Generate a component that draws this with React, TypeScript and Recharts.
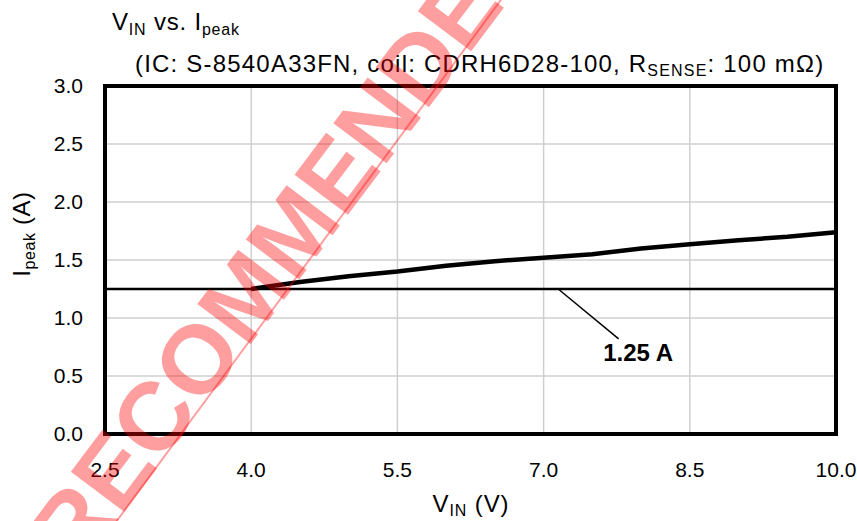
import React from "react";
import {
  LineChart,
  Line,
  XAxis,
  YAxis,
  CartesianGrid,
  ReferenceLine,
  ReferenceArea,
  ReferenceDot,
} from "recharts";

// V_IN (V) vs. I_peak (A)
const vin = [4.0, 4.5, 5.0, 5.5, 6.0, 6.5, 7.0, 7.5, 8.0, 8.5, 9.0, 9.5, 10.0];
const ipeak = [1.25, 1.31, 1.36, 1.4, 1.45, 1.49, 1.52, 1.55, 1.6, 1.635, 1.67, 1.7, 1.74];

const xTicks = [2.5, 4.0, 5.5, 7.0, 8.5, 10.0];
const yTicks = [0, 0.5, 1.0, 1.5, 2.0, 2.5, 3.0];
const limit = 1.25;

const data = vin.map((v, i) => ({ v, i: ipeak[i] }));

const FONT = '"Liberation Sans", Arial, sans-serif';
const tickStyle = { fill: "#000", fontSize: 21, fontFamily: FONT };

export default function App() {
  return (
    <div
      style={{
        position: "absolute",
        left: 0,
        top: 0,
        width: 857,
        height: 521,
        background: "#fff",
        fontFamily: FONT,
      }}
    >
      <LineChart
        width={857}
        height={521}
        data={data}
        margin={{ top: 86, right: 21, bottom: 0, left: 0 }}
      >
        <CartesianGrid stroke="#cfcfcf" strokeWidth={1.5} />
        <XAxis
          dataKey="v"
          type="number"
          domain={[2.5, 10]}
          ticks={xTicks}
          tickFormatter={(t) => t.toFixed(1)}
          axisLine={false}
          tickLine={false}
          tickSize={0}
          tickMargin={28}
          height={87}
          tick={tickStyle}
          interval={0}
        />
        <YAxis
          type="number"
          domain={[0, 3]}
          ticks={yTicks}
          tickFormatter={(t) => t.toFixed(1)}
          axisLine={false}
          tickLine={false}
          tickSize={0}
          tickMargin={22}
          width={105}
          tick={tickStyle}
          interval={0}
        />
        <ReferenceLine y={limit} stroke="#000" strokeWidth={2.5} />
        <ReferenceLine
          segment={[
            { x: 7.15, y: limit },
            { x: 7.77, y: 0.82 },
          ]}
          stroke="#000"
          strokeWidth={1.5}
        />
        <ReferenceDot
          x={7.97}
          y={0.7}
          r={0}
          fill="none"
          stroke="none"
          label={{
            value: "1.25 A",
            position: "center",
            fill: "#000",
            fontSize: 24,
            fontWeight: "bold",
            fontFamily: FONT,
          }}
        />
        <Line
          dataKey="i"
          type="linear"
          stroke="#000"
          strokeWidth={4.5}
          dot={false}
          isAnimationActive={false}
        />
        <ReferenceArea
          x1={2.5}
          x2={10}
          y1={0}
          y2={3}
          fill="none"
          stroke="#000"
          strokeWidth={4}
          ifOverflow="visible"
        />
      </LineChart>

      {/* titles and axis titles */}
      <svg
        width={857}
        height={521}
        style={{ position: "absolute", left: 0, top: 0, pointerEvents: "none" }}
      >
        <text x={112} y={30} fontSize={24} letterSpacing={0.8} fill="#000" fontFamily={FONT}>
          V<tspan fontSize={16} dy={5}>IN</tspan>
          <tspan dy={-5}> vs. I</tspan>
          <tspan fontSize={16} dy={5}>peak</tspan>
        </text>
        <text x={135} y={72} fontSize={24} letterSpacing={1.2} fill="#000" fontFamily={FONT}>
          (IC: S-8540A33FN, coil: CDRH6D28-100, R
          <tspan fontSize={16} dy={4}>SENSE</tspan>
          <tspan dy={-4}>: 100 mΩ)</tspan>
        </text>
        <text
          x={471}
          y={512}
          fontSize={24}
          letterSpacing={0.9}
          fill="#000"
          fontFamily={FONT}
          textAnchor="middle"
        >
          V<tspan fontSize={16} dy={4}>IN</tspan>
          <tspan dy={-4}> (V)</tspan>
        </text>
        <text
          transform="translate(30,234) rotate(-90)"
          fontSize={24}
          letterSpacing={0.6}
          fill="#000"
          fontFamily={FONT}
          textAnchor="middle"
        >
          I<tspan fontSize={16} dy={5}>peak</tspan>
          <tspan dy={-5}> (A)</tspan>
        </text>

        {/* watermark */}
        <g fill="#ff0000" fillOpacity={0.38}>
          <text
            transform="translate(78,573) rotate(-53)"
            fontSize={97}
            fontWeight="bold"
            fontFamily={FONT}
          >
            RECOMMENDED
          </text>
        </g>
        <line
          x1={88}
          y1={560}
          x2={520}
          y2={-26}
          stroke="#ff0000"
          strokeOpacity={0.38}
          strokeWidth={2}
        />
      </svg>
    </div>
  );
}
